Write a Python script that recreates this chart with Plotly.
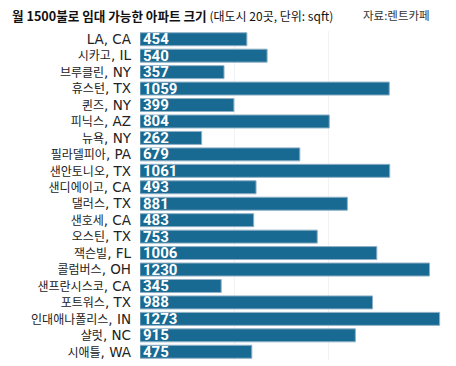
import plotly.graph_objects as go

cities = ["LA, CA", "시카고, IL", "브루클린, NY", "휴스턴, TX", "퀸즈, NY", "피닉스, AZ",
          "뉴욕, NY", "필라델피아, PA", "샌안토니오, TX", "샌디에이고, CA", "댈러스, TX",
          "샌호세, CA", "오스틴, TX", "잭슨빌, FL", "콜럼버스, OH", "샌프란시스코, CA",
          "포트워스, TX", "인대애나폴리스, IN", "샬럿, NC", "시애틀, WA"]
sqft = [454, 540, 357, 1059, 399, 804, 262, 679, 1061, 493, 881, 483, 753, 1006,
        1230, 345, 988, 1273, 915, 475]
grid_vals = [400, 800]

FONT = "Noto Sans CJK KR"


def styled(label):
    out, run, is_k = [], "", None
    for ch in label:
        k = ord(ch) > 0x1100
        if is_k is not None and k != is_k:
            out.append((run, is_k))
            run = ""
        run += ch
        is_k = k
    out.append((run, is_k))
    s = ""
    for r, k in out:
        if k:
            s += f"<span style='font-family:\"{FONT}\";font-size:12px'>{r}</span>"
        else:
            s += r
    return s


fig = go.Figure(go.Bar(
    y=cities, x=sqft, orientation="h",
    marker=dict(color="#186a92", line=dict(color="#8fb0c6", width=1)),
    text=[str(v) for v in sqft], textposition="inside", insidetextanchor="start",
    constraintext="none",
    textfont=dict(family="Roboto", size=15, color="white", weight="bold"),
    width=0.79, hoverinfo="skip",
))

fig.update_layout(
    width=456, height=366,
    margin=dict(l=140, r=10, t=30.5, b=6, autoexpand=False),
    paper_bgcolor="white", plot_bgcolor="white",
    showlegend=False,
    xaxis=dict(range=[0, 1300], tickvals=grid_vals, showticklabels=False,
               showgrid=True, gridcolor="rgba(0,0,0,0.05)", gridwidth=1,
               zeroline=False, showline=False, fixedrange=True, automargin=False),
    yaxis=dict(autorange="reversed", tickvals=cities, ticktext=[styled(c) for c in cities],
               tickfont=dict(family="DejaVu Sans", size=13.5, color="#222"),
               ticks="", ticklabelstandoff=8, showgrid=False, showline=False,
               fixedrange=True, automargin=False),
    annotations=[
        dict(xref="paper", yref="paper", x=-130/306, y=1, yshift=30.5 - 14.5,
             xanchor="left", yanchor="middle", showarrow=False,
             text="<b>월 1500불로 임대 가능한 아파트 크기</b> <span style='font-size:12px'>(대도시 20곳, 단위: sqft)</span>",
             font=dict(family=FONT, size=12.6, color="#111")),
        dict(xref="paper", yref="paper", x=(432 - 140) / 306, y=1, yshift=30.5 - 14.5,
             xanchor="right", yanchor="middle", showarrow=False,
             text="자료:렌트카페",
             font=dict(family=FONT, size=11.5, color="#333")),
    ],
)

fig.write_html("out.html", config={"displayModeBar": False},
               post_script="document.body.style.margin='0';document.body.style.padding='0';")
